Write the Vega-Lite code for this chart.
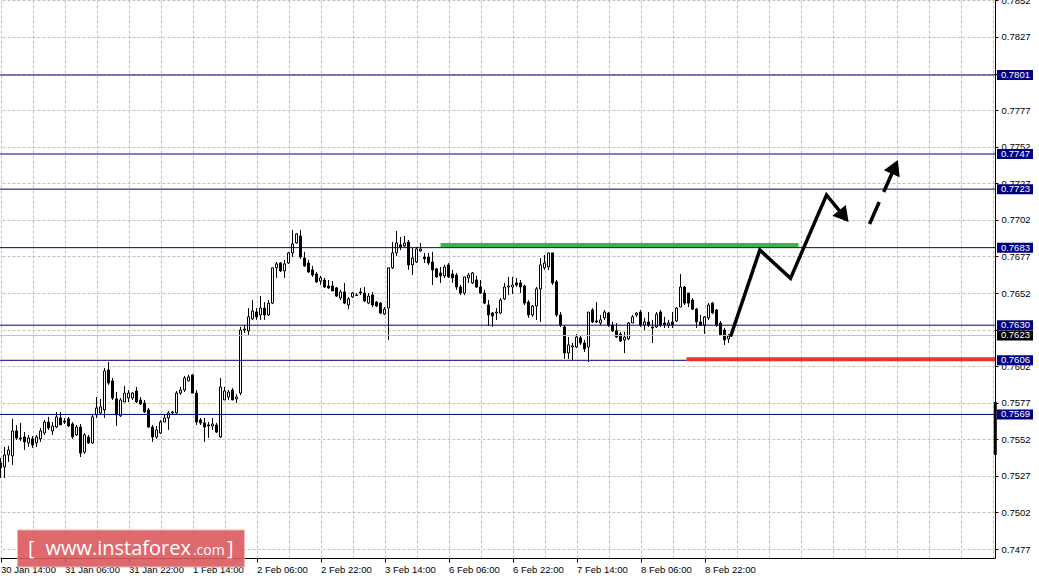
{
"$schema": "https://vega.github.io/schema/vega-lite/v6.json",
"width": 995,
"height": 558,
"autosize": "none",
"padding": {"left": 0, "top": 0, "right": 44, "bottom": 23},
"background": "white",
"config": {"view": {"stroke": null}},
"resolve": {"scale": {"color": "independent", "size": "independent"}},
"datasets": {
"candles": [
{"i":0,"o":0.75358,"h":0.75392,"l":0.75256,"c":0.75324},
{"i":1,"o":0.75331,"h":0.75468,"l":0.75256,"c":0.75413},
{"i":2,"o":0.75413,"h":0.75475,"l":0.75365,"c":0.75447},
{"i":3,"o":0.75406,"h":0.75660,"l":0.75345,"c":0.75577},
{"i":4,"o":0.75577,"h":0.75618,"l":0.75516,"c":0.75529},
{"i":5,"o":0.75529,"h":0.75632,"l":0.75509,"c":0.75523},
{"i":6,"o":0.75536,"h":0.75570,"l":0.75447,"c":0.75502},
{"i":7,"o":0.75495,"h":0.75550,"l":0.75468,"c":0.75529},
{"i":8,"o":0.75523,"h":0.75543,"l":0.75461,"c":0.75482},
{"i":9,"o":0.75495,"h":0.75550,"l":0.75468,"c":0.75536},
{"i":10,"o":0.75523,"h":0.75597,"l":0.75502,"c":0.75577},
{"i":11,"o":0.75563,"h":0.75652,"l":0.75550,"c":0.75638},
{"i":12,"o":0.75638,"h":0.75673,"l":0.75584,"c":0.75597},
{"i":13,"o":0.75577,"h":0.75638,"l":0.75550,"c":0.75611},
{"i":14,"o":0.75604,"h":0.75707,"l":0.75597,"c":0.75673},
{"i":15,"o":0.75666,"h":0.75707,"l":0.75618,"c":0.75618},
{"i":16,"o":0.75645,"h":0.75666,"l":0.75625,"c":0.75638},
{"i":17,"o":0.75660,"h":0.75673,"l":0.75604,"c":0.75611},
{"i":18,"o":0.75625,"h":0.75638,"l":0.75523,"c":0.75536},
{"i":19,"o":0.75550,"h":0.75618,"l":0.75543,"c":0.75604},
{"i":20,"o":0.75604,"h":0.75625,"l":0.75399,"c":0.75426},
{"i":21,"o":0.75433,"h":0.75563,"l":0.75420,"c":0.75550},
{"i":22,"o":0.75536,"h":0.75550,"l":0.75489,"c":0.75495},
{"i":23,"o":0.75495,"h":0.75694,"l":0.75489,"c":0.75673},
{"i":24,"o":0.75687,"h":0.75809,"l":0.75666,"c":0.75734},
{"i":25,"o":0.75700,"h":0.75796,"l":0.75687,"c":0.75742},
{"i":26,"o":0.75721,"h":0.76007,"l":0.75666,"c":0.75987},
{"i":27,"o":0.75994,"h":0.76048,"l":0.75892,"c":0.75905},
{"i":28,"o":0.75919,"h":0.75939,"l":0.75789,"c":0.75802},
{"i":29,"o":0.75796,"h":0.75843,"l":0.75611,"c":0.75687},
{"i":30,"o":0.75680,"h":0.75802,"l":0.75673,"c":0.75789},
{"i":31,"o":0.75775,"h":0.75885,"l":0.75775,"c":0.75836},
{"i":32,"o":0.75802,"h":0.75857,"l":0.75775,"c":0.75836},
{"i":33,"o":0.75802,"h":0.75843,"l":0.75789,"c":0.75836},
{"i":34,"o":0.75850,"h":0.75878,"l":0.75768,"c":0.75775},
{"i":35,"o":0.75789,"h":0.75809,"l":0.75755,"c":0.75762},
{"i":36,"o":0.75768,"h":0.75789,"l":0.75700,"c":0.75707},
{"i":37,"o":0.75721,"h":0.75734,"l":0.75597,"c":0.75604},
{"i":38,"o":0.75604,"h":0.75618,"l":0.75502,"c":0.75536},
{"i":39,"o":0.75536,"h":0.75611,"l":0.75523,"c":0.75584},
{"i":40,"o":0.75563,"h":0.75652,"l":0.75557,"c":0.75638},
{"i":41,"o":0.75638,"h":0.75687,"l":0.75638,"c":0.75666},
{"i":42,"o":0.75666,"h":0.75714,"l":0.75584,"c":0.75700},
{"i":43,"o":0.75700,"h":0.75714,"l":0.75687,"c":0.75707},
{"i":44,"o":0.75700,"h":0.75850,"l":0.75687,"c":0.75836},
{"i":45,"o":0.75836,"h":0.75878,"l":0.75823,"c":0.75857},
{"i":46,"o":0.75857,"h":0.75953,"l":0.75843,"c":0.75939},
{"i":47,"o":0.75919,"h":0.75960,"l":0.75919,"c":0.75946},
{"i":48,"o":0.75960,"h":0.75967,"l":0.75836,"c":0.75836},
{"i":49,"o":0.75836,"h":0.75857,"l":0.75618,"c":0.75638},
{"i":50,"o":0.75652,"h":0.75666,"l":0.75618,"c":0.75632},
{"i":51,"o":0.75632,"h":0.75666,"l":0.75502,"c":0.75604},
{"i":52,"o":0.75618,"h":0.75638,"l":0.75529,"c":0.75611},
{"i":53,"o":0.75611,"h":0.75666,"l":0.75584,"c":0.75625},
{"i":54,"o":0.75618,"h":0.75632,"l":0.75563,"c":0.75570},
{"i":55,"o":0.75536,"h":0.75939,"l":0.75529,"c":0.75878},
{"i":56,"o":0.75789,"h":0.75878,"l":0.75789,"c":0.75850},
{"i":57,"o":0.75809,"h":0.75857,"l":0.75789,"c":0.75843},
{"i":58,"o":0.75857,"h":0.75871,"l":0.75789,"c":0.75789},
{"i":59,"o":0.75796,"h":0.75829,"l":0.75768,"c":0.75809},
{"i":60,"o":0.75836,"h":0.76288,"l":0.75823,"c":0.76267},
{"i":61,"o":0.76267,"h":0.76301,"l":0.76247,"c":0.76274},
{"i":62,"o":0.76261,"h":0.76417,"l":0.76233,"c":0.76357},
{"i":63,"o":0.76343,"h":0.76472,"l":0.76336,"c":0.76397},
{"i":64,"o":0.76390,"h":0.76417,"l":0.76336,"c":0.76357},
{"i":65,"o":0.76370,"h":0.76499,"l":0.76336,"c":0.76417},
{"i":66,"o":0.76417,"h":0.76458,"l":0.76336,"c":0.76370},
{"i":67,"o":0.76370,"h":0.76472,"l":0.76363,"c":0.76451},
{"i":68,"o":0.76451,"h":0.76692,"l":0.76444,"c":0.76692},
{"i":69,"o":0.76692,"h":0.76732,"l":0.76623,"c":0.76719},
{"i":70,"o":0.76725,"h":0.76732,"l":0.76664,"c":0.76671},
{"i":71,"o":0.76671,"h":0.76746,"l":0.76623,"c":0.76719},
{"i":72,"o":0.76725,"h":0.76801,"l":0.76719,"c":0.76794},
{"i":73,"o":0.76794,"h":0.76951,"l":0.76766,"c":0.76856},
{"i":74,"o":0.76862,"h":0.76930,"l":0.76856,"c":0.76924},
{"i":75,"o":0.76910,"h":0.76951,"l":0.76753,"c":0.76766},
{"i":76,"o":0.76759,"h":0.76801,"l":0.76698,"c":0.76705},
{"i":77,"o":0.76725,"h":0.76746,"l":0.76657,"c":0.76664},
{"i":78,"o":0.76678,"h":0.76705,"l":0.76630,"c":0.76643},
{"i":79,"o":0.76650,"h":0.76664,"l":0.76589,"c":0.76596},
{"i":80,"o":0.76602,"h":0.76637,"l":0.76575,"c":0.76623},
{"i":81,"o":0.76609,"h":0.76623,"l":0.76555,"c":0.76561},
{"i":82,"o":0.76568,"h":0.76609,"l":0.76548,"c":0.76555},
{"i":83,"o":0.76568,"h":0.76602,"l":0.76534,"c":0.76534},
{"i":84,"o":0.76555,"h":0.76561,"l":0.76493,"c":0.76499},
{"i":85,"o":0.76486,"h":0.76541,"l":0.76472,"c":0.76527},
{"i":86,"o":0.76527,"h":0.76589,"l":0.76444,"c":0.76451},
{"i":87,"o":0.76438,"h":0.76493,"l":0.76410,"c":0.76479},
{"i":88,"o":0.76493,"h":0.76527,"l":0.76486,"c":0.76520},
{"i":89,"o":0.76506,"h":0.76520,"l":0.76499,"c":0.76503},
{"i":90,"o":0.76527,"h":0.76555,"l":0.76506,"c":0.76520},
{"i":91,"o":0.76520,"h":0.76561,"l":0.76458,"c":0.76465},
{"i":92,"o":0.76451,"h":0.76520,"l":0.76444,"c":0.76499},
{"i":93,"o":0.76506,"h":0.76527,"l":0.76424,"c":0.76438},
{"i":94,"o":0.76458,"h":0.76465,"l":0.76424,"c":0.76431},
{"i":95,"o":0.76451,"h":0.76458,"l":0.76376,"c":0.76383},
{"i":96,"o":0.76376,"h":0.76424,"l":0.76370,"c":0.76410},
{"i":97,"o":0.76417,"h":0.76692,"l":0.76199,"c":0.76692},
{"i":98,"o":0.76692,"h":0.76869,"l":0.76685,"c":0.76794},
{"i":99,"o":0.76794,"h":0.76944,"l":0.76773,"c":0.76862},
{"i":100,"o":0.76849,"h":0.76903,"l":0.76814,"c":0.76835},
{"i":101,"o":0.76842,"h":0.76910,"l":0.76835,"c":0.76862},
{"i":102,"o":0.76869,"h":0.76883,"l":0.76678,"c":0.76712},
{"i":103,"o":0.76712,"h":0.76828,"l":0.76643,"c":0.76759},
{"i":104,"o":0.76732,"h":0.76835,"l":0.76725,"c":0.76821},
{"i":105,"o":0.76808,"h":0.76862,"l":0.76801,"c":0.76821},
{"i":106,"o":0.76766,"h":0.76794,"l":0.76725,"c":0.76753},
{"i":107,"o":0.76766,"h":0.76794,"l":0.76712,"c":0.76725},
{"i":108,"o":0.76732,"h":0.76801,"l":0.76575,"c":0.76678},
{"i":109,"o":0.76685,"h":0.76692,"l":0.76623,"c":0.76630},
{"i":110,"o":0.76657,"h":0.76698,"l":0.76589,"c":0.76637},
{"i":111,"o":0.76637,"h":0.76712,"l":0.76623,"c":0.76698},
{"i":112,"o":0.76712,"h":0.76725,"l":0.76623,"c":0.76630},
{"i":113,"o":0.76650,"h":0.76678,"l":0.76589,"c":0.76623},
{"i":114,"o":0.76643,"h":0.76657,"l":0.76541,"c":0.76561},
{"i":115,"o":0.76561,"h":0.76575,"l":0.76506,"c":0.76520},
{"i":116,"o":0.76520,"h":0.76630,"l":0.76506,"c":0.76630},
{"i":117,"o":0.76623,"h":0.76657,"l":0.76589,"c":0.76643},
{"i":118,"o":0.76589,"h":0.76664,"l":0.76582,"c":0.76657},
{"i":119,"o":0.76609,"h":0.76637,"l":0.76555,"c":0.76561},
{"i":120,"o":0.76561,"h":0.76609,"l":0.76513,"c":0.76520},
{"i":121,"o":0.76520,"h":0.76541,"l":0.76444,"c":0.76451},
{"i":122,"o":0.76438,"h":0.76472,"l":0.76295,"c":0.76370},
{"i":123,"o":0.76383,"h":0.76390,"l":0.76288,"c":0.76363},
{"i":124,"o":0.76383,"h":0.76417,"l":0.76336,"c":0.76390},
{"i":125,"o":0.76383,"h":0.76486,"l":0.76376,"c":0.76472},
{"i":126,"o":0.76479,"h":0.76589,"l":0.76472,"c":0.76561},
{"i":127,"o":0.76561,"h":0.76630,"l":0.76506,"c":0.76568},
{"i":128,"o":0.76561,"h":0.76630,"l":0.76513,"c":0.76575},
{"i":129,"o":0.76589,"h":0.76623,"l":0.76561,"c":0.76575},
{"i":130,"o":0.76589,"h":0.76609,"l":0.76520,"c":0.76561},
{"i":131,"o":0.76568,"h":0.76575,"l":0.76438,"c":0.76451},
{"i":132,"o":0.76458,"h":0.76472,"l":0.76350,"c":0.76370},
{"i":133,"o":0.76370,"h":0.76438,"l":0.76357,"c":0.76431},
{"i":134,"o":0.76431,"h":0.76561,"l":0.76336,"c":0.76548},
{"i":135,"o":0.76548,"h":0.76759,"l":0.76322,"c":0.76712},
{"i":136,"o":0.76692,"h":0.76780,"l":0.76678,"c":0.76725},
{"i":137,"o":0.76698,"h":0.76794,"l":0.76678,"c":0.76794},
{"i":138,"o":0.76794,"h":0.76794,"l":0.76575,"c":0.76589},
{"i":139,"o":0.76596,"h":0.76609,"l":0.76357,"c":0.76370},
{"i":140,"o":0.76370,"h":0.76390,"l":0.76288,"c":0.76301},
{"i":141,"o":0.76288,"h":0.76301,"l":0.76069,"c":0.76110},
{"i":142,"o":0.76110,"h":0.76219,"l":0.76069,"c":0.76165},
{"i":143,"o":0.76151,"h":0.76178,"l":0.76062,"c":0.76158},
{"i":144,"o":0.76151,"h":0.76240,"l":0.76144,"c":0.76219},
{"i":145,"o":0.76213,"h":0.76226,"l":0.76165,"c":0.76178},
{"i":146,"o":0.76178,"h":0.76199,"l":0.76117,"c":0.76138},
{"i":147,"o":0.76151,"h":0.76390,"l":0.76048,"c":0.76390},
{"i":148,"o":0.76404,"h":0.76417,"l":0.76315,"c":0.76322},
{"i":149,"o":0.76329,"h":0.76458,"l":0.76315,"c":0.76322},
{"i":150,"o":0.76315,"h":0.76370,"l":0.76301,"c":0.76336},
{"i":151,"o":0.76350,"h":0.76404,"l":0.76336,"c":0.76390},
{"i":152,"o":0.76383,"h":0.76390,"l":0.76288,"c":0.76301},
{"i":153,"o":0.76301,"h":0.76322,"l":0.76254,"c":0.76261},
{"i":154,"o":0.76261,"h":0.76315,"l":0.76213,"c":0.76219},
{"i":155,"o":0.76240,"h":0.76254,"l":0.76185,"c":0.76192},
{"i":156,"o":0.76199,"h":0.76254,"l":0.76110,"c":0.76219},
{"i":157,"o":0.76206,"h":0.76322,"l":0.76199,"c":0.76315},
{"i":158,"o":0.76315,"h":0.76370,"l":0.76315,"c":0.76357},
{"i":159,"o":0.76370,"h":0.76390,"l":0.76357,"c":0.76383},
{"i":160,"o":0.76390,"h":0.76404,"l":0.76288,"c":0.76301},
{"i":161,"o":0.76301,"h":0.76350,"l":0.76267,"c":0.76322},
{"i":162,"o":0.76322,"h":0.76390,"l":0.76288,"c":0.76301},
{"i":163,"o":0.76281,"h":0.76336,"l":0.76178,"c":0.76288},
{"i":164,"o":0.76288,"h":0.76390,"l":0.76281,"c":0.76376},
{"i":165,"o":0.76390,"h":0.76404,"l":0.76288,"c":0.76301},
{"i":166,"o":0.76315,"h":0.76357,"l":0.76281,"c":0.76301},
{"i":167,"o":0.76301,"h":0.76336,"l":0.76281,"c":0.76315},
{"i":168,"o":0.76322,"h":0.76390,"l":0.76281,"c":0.76301},
{"i":169,"o":0.76329,"h":0.76424,"l":0.76322,"c":0.76417},
{"i":170,"o":0.76424,"h":0.76650,"l":0.76424,"c":0.76561},
{"i":171,"o":0.76561,"h":0.76568,"l":0.76438,"c":0.76451},
{"i":172,"o":0.76520,"h":0.76520,"l":0.76424,"c":0.76451},
{"i":173,"o":0.76472,"h":0.76486,"l":0.76404,"c":0.76410},
{"i":174,"o":0.76410,"h":0.76417,"l":0.76281,"c":0.76322},
{"i":175,"o":0.76322,"h":0.76370,"l":0.76301,"c":0.76301},
{"i":176,"o":0.76301,"h":0.76363,"l":0.76240,"c":0.76357},
{"i":177,"o":0.76350,"h":0.76451,"l":0.76336,"c":0.76438},
{"i":178,"o":0.76451,"h":0.76458,"l":0.76376,"c":0.76383},
{"i":179,"o":0.76404,"h":0.76410,"l":0.76288,"c":0.76301},
{"i":180,"o":0.76315,"h":0.76329,"l":0.76226,"c":0.76233},
{"i":181,"o":0.76267,"h":0.76281,"l":0.76165,"c":0.76199},
{"i":182,"o":0.76206,"h":0.76240,"l":0.76178,"c":0.76226}
],
"levels": [
{"p":0.7623,"kind":"bid"},
{"p":0.7801,"kind":"level"},
{"p":0.7747,"kind":"level"},
{"p":0.7723,"kind":"level"},
{"p":0.7683,"kind":"level"},
{"p":0.7630,"kind":"level"},
{"p":0.7606,"kind":"level"},
{"p":0.7569,"kind":"level"}
],
"zones": [
{"name":"resistance","p":0.76848,"from":110,"to":199.5},
{"name":"support","p":0.76067,"from":171.5,"to":248.625}
],
"path": [
{"k":1,"i":182.5,"p":0.76221},
{"k":2,"i":189.83,"p":0.76814},
{"k":3,"i":197.5,"p":0.76620},
{"k":4,"i":206.5,"p":0.77190},
{"k":5,"i":210.83,"p":0.77045}
],
"dashpath": [
{"k":1,"i":217.25,"p":0.76992},
{"k":2,"i":223.58,"p":0.77382}
],
"heads": [
{"i":210.83,"p":0.77045,"dir":140.8},
{"i":223.58,"p":0.77382,"dir":23.8}
]
},
"layer": [
{
"data": {"name": "candles"},
"mark": {"type": "rule", "stroke": "black", "strokeWidth": 1},
"encoding": {
"x": {"field": "i", "type": "quantitative", "title": null,
"scale": {"domain": [-0.125, 248.625], "nice": false, "zero": false, "padding": 0},
"axis": {"title": null, "orient": "bottom", "tickCount": 1000,
"values": [0,8,16,24,32,40,48,56,64,72,80,88,96,104,112,120,128,136,144,152,160,168,176,184,192,200,208,216,224,232,240,248],
"labelExpr": "datum.value==0?'30 Jan 14:00':datum.value==16?'31 Jan 06:00':datum.value==32?'31 Jan 22:00':datum.value==48?'1 Feb 14:00':datum.value==64?'2 Feb 06:00':datum.value==80?'2 Feb 22:00':datum.value==96?'3 Feb 14:00':datum.value==112?'6 Feb 06:00':datum.value==128?'6 Feb 22:00':datum.value==144?'7 Feb 14:00':datum.value==160?'8 Feb 06:00':datum.value==176?'8 Feb 22:00':''",
"labelAlign": "left", "labelBaseline": "top", "labelPadding": 2, "labelFlush": false, "labelOverlap": false,
"labelFont": "Liberation Sans", "labelFontSize": 9.5, "labelColor": "black",
"tickSize": 4, "tickColor": "black",
"tickOpacity": {"condition": {"test": "datum.value % 16 === 0 && datum.value <= 176", "value": 1}, "value": 0},
"domainColor": "black", "domainWidth": 1,
"grid": true, "gridColor": "#c0c0c0", "gridDash": [3, 2], "gridWidth": 1}},
"y": {"field": "l", "type": "quantitative", "title": null,
"scale": {"domain": [0.747087, 0.785227], "nice": false, "zero": false, "padding": 0},
"axis": {"title": null, "orient": "right", "tickCount": 1000,
"values": [0.7477,0.7502,0.7527,0.7552,0.7577,0.7602,0.7627,0.7652,0.7677,0.7702,0.7727,0.7752,0.7777,0.7802,0.7827,0.7852],
"format": ".4f", "labelFont": "Liberation Sans", "labelFontSize": 9.5, "labelColor": "black",
"labelPadding": 3, "labelFlush": false, "labelOverlap": false,
"tickSize": 3, "tickColor": "black", "domainColor": "black", "domainWidth": 1,
"grid": true, "gridColor": "#c0c0c0", "gridDash": [3, 2], "gridWidth": 1}},
"y2": {"field": "h"}
}
},
{
"data": {"name": "candles"},
"mark": {"type": "bar", "width": 2, "stroke": "black", "strokeWidth": 1, "orient": "vertical"},
"encoding": {
"x": {"field": "i", "type": "quantitative", "title": null, "scale": {"domain": [-0.125, 248.625], "nice": false, "zero": false, "padding": 0}},
"y": {"field": "o", "type": "quantitative", "title": null, "scale": {"domain": [0.747087, 0.785227], "nice": false, "zero": false, "padding": 0}},
"y2": {"field": "c"},
"fill": {"condition": {"test": "datum.c < datum.o", "value": "black"}, "value": "white"}
}
},
{
"data": {"name": "levels"},
"mark": {"type": "rule", "strokeWidth": 1},
"encoding": {
"y": {"field": "p", "type": "quantitative", "title": null, "scale": {"domain": [0.747087, 0.785227], "nice": false, "zero": false, "padding": 0}},
"color": {"field": "kind", "type": "nominal", "scale": {"domain": ["level", "bid"], "range": ["#000080", "#c0c0c0"]}, "legend": null}
}
},
{
"data": {"name": "zones"},
"mark": {"type": "rule", "strokeWidth": 4},
"encoding": {
"x": {"field": "from", "type": "quantitative", "title": null, "scale": {"domain": [-0.125, 248.625], "nice": false, "zero": false, "padding": 0}},
"x2": {"field": "to"},
"y": {"field": "p", "type": "quantitative", "title": null, "scale": {"domain": [0.747087, 0.785227], "nice": false, "zero": false, "padding": 0}},
"color": {"field": "name", "type": "nominal", "scale": {"domain": ["resistance", "support"], "range": ["#3cb44b", "#ee3333"]}, "legend": null}
}
},
{
"data": {"name": "path"},
"mark": {"type": "line", "color": "black", "strokeWidth": 3.5, "strokeJoin": "miter", "strokeCap": "butt"},
"encoding": {
"x": {"field": "i", "type": "quantitative", "title": null, "scale": {"domain": [-0.125, 248.625], "nice": false, "zero": false, "padding": 0}},
"y": {"field": "p", "type": "quantitative", "title": null, "scale": {"domain": [0.747087, 0.785227], "nice": false, "zero": false, "padding": 0}},
"order": {"field": "k", "type": "quantitative"}
}
},
{
"data": {"name": "dashpath"},
"mark": {"type": "line", "color": "black", "strokeWidth": 3.5, "strokeDash": [24, 11], "strokeCap": "butt"},
"encoding": {
"x": {"field": "i", "type": "quantitative", "title": null, "scale": {"domain": [-0.125, 248.625], "nice": false, "zero": false, "padding": 0}},
"y": {"field": "p", "type": "quantitative", "title": null, "scale": {"domain": [0.747087, 0.785227], "nice": false, "zero": false, "padding": 0}},
"order": {"field": "k", "type": "quantitative"}
}
},
{
"data": {"name": "heads"},
"mark": {"type": "point", "shape": "triangle-up", "filled": true, "color": "black", "opacity": 1, "size": 300},
"encoding": {
"x": {"field": "i", "type": "quantitative", "title": null, "scale": {"domain": [-0.125, 248.625], "nice": false, "zero": false, "padding": 0}},
"y": {"field": "p", "type": "quantitative", "title": null, "scale": {"domain": [0.747087, 0.785227], "nice": false, "zero": false, "padding": 0}},
"angle": {"field": "dir", "type": "quantitative", "scale": null}
}
},
{
"data": {"name": "levels"},
"mark": {"type": "tick", "orient": "horizontal", "thickness": 10, "size": 36, "opacity": 1},
"encoding": {
"x": {"datum": 253.625, "type": "quantitative", "title": null, "scale": {"domain": [-0.125, 248.625], "nice": false, "zero": false, "padding": 0}},
"y": {"field": "p", "type": "quantitative", "title": null, "scale": {"domain": [0.747087, 0.785227], "nice": false, "zero": false, "padding": 0}},
"color": {"field": "kind", "type": "nominal", "scale": {"domain": ["level", "bid"], "range": ["#000080", "#000000"]}, "legend": null}
}
},
{
"data": {"name": "levels"},
"mark": {"type": "text", "align": "left", "baseline": "middle", "font": "Liberation Sans", "fontSize": 9.5, "color": "white"},
"encoding": {
"x": {"datum": 250.1, "type": "quantitative", "title": null, "scale": {"domain": [-0.125, 248.625], "nice": false, "zero": false, "padding": 0}},
"y": {"field": "p", "type": "quantitative", "title": null, "scale": {"domain": [0.747087, 0.785227], "nice": false, "zero": false, "padding": 0}},
"text": {"field": "p", "type": "quantitative", "format": ".4f"}
}
},
{
"data": {"values": [{}]},
"mark": {"type": "rule", "color": "black", "strokeWidth": 3},
"encoding": {
"x": {"datum": 248.7, "type": "quantitative", "title": null, "scale": {"domain": [-0.125, 248.625], "nice": false, "zero": false, "padding": 0}},
"y": {"datum": 0.75775, "type": "quantitative", "title": null, "scale": {"domain": [0.747087, 0.785227], "nice": false, "zero": false, "padding": 0}},
"y2": {"datum": 0.75413}
}
},
{
"data": {"values": [{}]},
"mark": {"type": "rect", "fill": "#dc5a5f", "opacity": 0.9, "stroke": "#f2b0b0", "strokeWidth": 1},
"encoding": {
"x": {"datum": 4.25, "type": "quantitative", "title": null, "scale": {"domain": [-0.125, 248.625], "nice": false, "zero": false, "padding": 0}},
"x2": {"datum": 61},
"y": {"datum": 0.749, "type": "quantitative", "title": null, "scale": {"domain": [0.747087, 0.785227], "nice": false, "zero": false, "padding": 0}},
"y2": {"datum": 0.74647}
}
},
{
"data": {"values": [{"t": "[", "i": 6.9, "s": "big"}, {"t": "www.instaforex", "i": 11.25, "s": "big"}, {"t": ".com", "i": 48.1, "s": "small"}, {"t": "]", "i": 56.6, "s": "big"}]},
"mark": {"type": "text", "align": "left", "baseline": "alphabetic", "font": "Open Sans", "color": "white"},
"encoding": {
"x": {"field": "i", "type": "quantitative", "title": null, "scale": {"domain": [-0.125, 248.625], "nice": false, "zero": false, "padding": 0}},
"y": {"datum": 0.74729, "type": "quantitative", "title": null, "scale": {"domain": [0.747087, 0.785227], "nice": false, "zero": false, "padding": 0}},
"text": {"field": "t"},
"size": {"field": "s", "type": "nominal", "scale": {"domain": ["big", "small"], "range": [20, 14]}, "legend": null}
}
}
]
}
